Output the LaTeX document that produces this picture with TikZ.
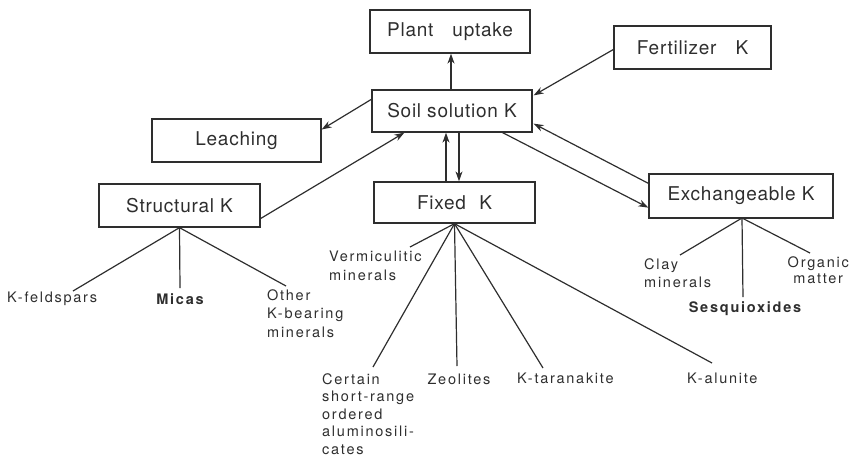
\documentclass[tikz,border=0pt]{standalone}
\usepackage{fontspec}
\setmainfont{TeX Gyre Heros}
\newfontfamily\poolfont[LetterSpace=4]{TeX Gyre Heros}
\newfontfamily\leaffont[LetterSpace=12]{TeX Gyre Heros}
\usetikzlibrary{arrows.meta,calc}

\definecolor{ink}{gray}{0.18}

\tikzset{
  pool/.style={draw=ink, line width=1.3pt, inner sep=0pt, text=ink,
    font=\poolfont\fontsize{19}{22}\selectfont},
  link/.style={draw=ink, line width=1.2pt},
  flow/.style={draw=ink, line width=1.2pt, -{Stealth[length=10pt,width=7pt]}},
  leaf/.style={inner sep=0pt, align=left, text=ink,
    font=\leaffont\fontsize{14.5}{18.5}\selectfont},
}

\begin{document}
\begin{tikzpicture}[x=1pt,y=-1pt]
\useasboundingbox (0,0) rectangle (852,456);

% potassium pools
\node[pool, minimum width=160pt, minimum height=43pt] (plant) at (450,31.5) {Plant\hspace{1em}uptake};
\node[pool, minimum width=157pt, minimum height=43pt] (fert)  at (692.5,47.5) {Fertilizer\hspace{1em}K};
\node[pool, minimum width=160pt, minimum height=42pt] (soil)  at (452,111) {Soil solution K};
\node[pool, minimum width=169pt, minimum height=43pt] (leach) at (236.5,140.5) {Leaching};
\node[pool, minimum width=161pt, minimum height=43pt] (struct) at (179.5,205.5) {Structural K};
\node[pool, minimum width=161pt, minimum height=41pt] (fixed) at (454.5,202.5) {Fixed\hspace{0.7em}K};
\node[pool, minimum width=184pt, minimum height=44pt] (exch) at (741,196) {Exchangeable K};

% flows between pools
\draw[flow] (soil.north -| 451,0) -- (plant.south -| 451,0);
\draw[flow] ($(fert.west)+(0,2)$) -- ($(soil.north east)+(1,6)$);
\draw[flow] ($(soil.north west)+(0,10)$) -- ($(leach.east)+(0,-11)$);
\draw[flow] ($(struct.east)+(0,13)$) -- ($(soil.south west)+(33,0)$);
\draw[flow] (fixed.north -| 446,0) -- (soil.south -| 446,0);
\draw[flow] (soil.south -| 459,0) -- (fixed.north -| 459,0);
\draw[flow] ($(soil.south east)+(-30,0)$) -- ($(exch.south west)+(0,-11)$);
\draw[flow] ($(exch.north west)+(0,10)$) -- ($(soil.south east)+(1,-9)$);

% mineral sources
\coordinate (sb) at (struct.south);
\coordinate (fb) at (fixed.south);
\coordinate (eb) at (742,218);

\node[leaf, anchor=west] (kf) at (7,299) {K-feldspars};
\node[leaf, anchor=center, font=\leaffont\fontsize{14.5}{18.5}\selectfont\bfseries] (mica) at (180,299) {Micas};
\node[leaf, anchor=north west] (other) at (267,289) {Other\\K-bearing\\minerals};
\draw[link] (sb) -- (73,291);
\draw[link] (sb) -- (180,288);
\draw[link] (sb) -- (286,286);

\node[leaf, anchor=north west] (verm) at (329,251) {Vermiculitic\\minerals};
\node[leaf, anchor=north west, font=\leaffont\fontsize{14.5}{17.5}\selectfont] (cert) at (322,373) {Certain\\short-range\\ordered\\aluminosili-\\cates};
\node[leaf, anchor=center] (zeo) at (459,379) {Zeolites};
\node[leaf, anchor=west] (tar) at (517,378) {K-taranakite};
\node[leaf, anchor=west] (alu) at (687,378) {K-alunite};
\draw[link] (fb) -- (410,247);
\draw[link] (fb) -- (373,367);
\draw[link] (fb) -- (457,366);
\draw[link] (fb) -- (543,368);
\draw[link] (fb) -- (712,363);

\node[leaf, anchor=north west, font=\leaffont\fontsize{14.5}{18}\selectfont] (clay) at (644,258) {Clay\\minerals};
\node[leaf, anchor=center, font=\leaffont\fontsize{14.5}{18}\selectfont\bfseries] (sesq) at (745,309) {Sesquioxides};
\node[leaf, anchor=north east, align=center, font=\leaffont\fontsize{14.5}{16.5}\selectfont] (org) at (849,256) {Organic\\matter};
\draw[link] (eb) -- (680,255);
\draw[link] (eb) -- (743,297);
\draw[link] (eb) -- (810,253);

\end{tikzpicture}
\end{document}
